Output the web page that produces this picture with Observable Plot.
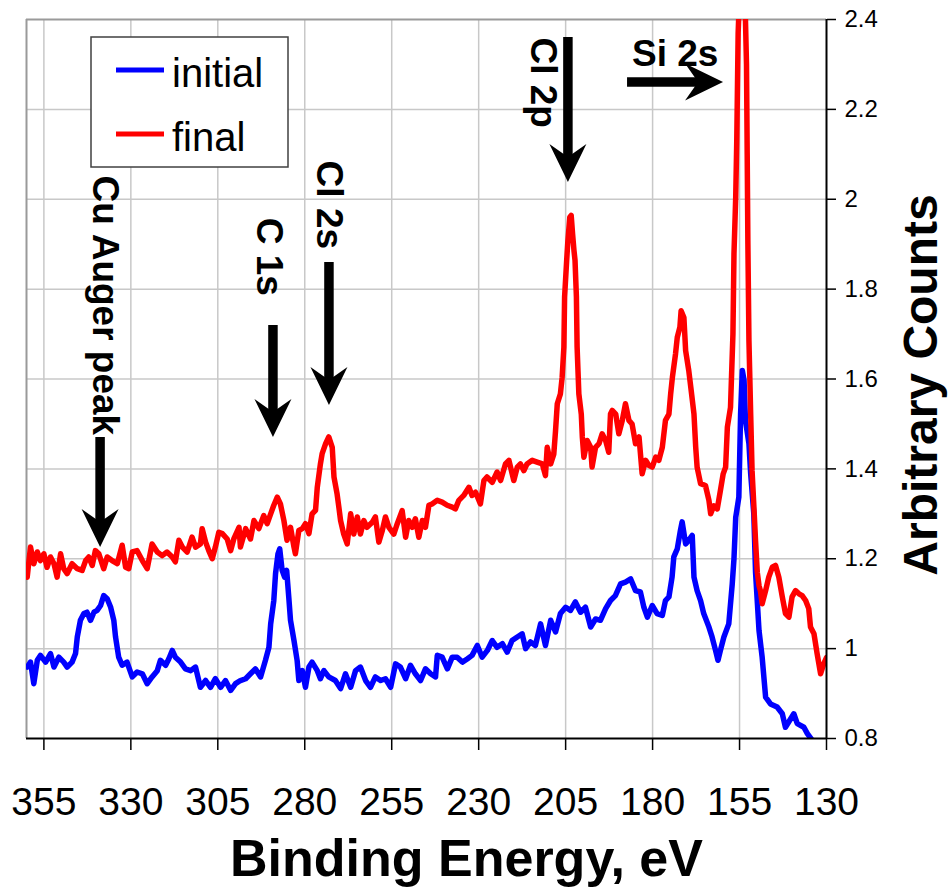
<!DOCTYPE html>
<html><head><meta charset="utf-8">
<script src="https://cdn.jsdelivr.net/npm/d3@7"></script>
<script src="https://cdn.jsdelivr.net/npm/@observablehq/plot@0.6"></script>
<style>
body{margin:0;background:#fff;}
#chart{width:949px;height:888px;}
</style></head><body><div id="chart"></div>
<script>
// ---- data: [binding energy (eV), arbitrary counts] ----
const initialSpectrum = [
[359.8,0.959],[358.85,0.970],[357.9,0.922],[356.9,0.974],[356.0,0.985],[354.5,0.970],[353.1,0.989],[352.1,0.959],[350.7,0.981],[349.3,0.970],[348.3,0.959],[346.9,0.970],[345.9,0.989],[345.4,1.026],[344.5,1.063],[343.5,1.078],[342.6,1.081],[341.6,1.063],[340.6,1.081],[339.7,1.085],[338.7,1.096],[337.8,1.118],[336.8,1.111],[335.8,1.092],[334.9,1.063],[334.4,1.026],[333.5,0.981],[332.5,0.963],[331.1,0.970],[329.6,0.937],[328.2,0.948],[326.7,0.944],[325.3,0.922],[323.9,0.937],[322.4,0.951],[321.5,0.974],[320.0,0.963],[319.1,0.977],[318.1,0.996],[317.2,0.981],[315.7,0.970],[314.3,0.955],[312.8,0.951],[311.4,0.959],[310.0,0.914],[308.5,0.929],[307.1,0.914],[305.7,0.933],[304.2,0.914],[302.8,0.929],[301.3,0.907],[299.9,0.922],[298.5,0.929],[297.0,0.933],[295.6,0.944],[294.2,0.955],[292.7,0.937],[291.3,0.974],[290.3,1.003],[289.8,1.055],[288.9,1.107],[288.4,1.167],[287.7,1.211],[287.2,1.222],[286.5,1.174],[285.8,1.159],[285.2,1.174],[284.6,1.115],[284.1,1.063],[283.1,1.018],[282.2,0.974],[281.7,0.929],[280.7,0.951],[279.8,0.914],[278.8,0.959],[277.9,0.970],[276.4,0.951],[275.5,0.933],[274.5,0.951],[273.1,0.937],
[271.2,0.929],[269.7,0.911],[268.3,0.944],[266.8,0.914],[265.4,0.951],[264.0,0.959],[262.5,0.929],[261.1,0.914],[259.7,0.937],[258.2,0.929],[256.8,0.933],[255.3,0.914],[253.9,0.966],[252.5,0.959],[251.0,0.933],[249.6,0.963],[248.2,0.944],[246.7,0.929],[245.3,0.955],[243.8,0.944],[242.4,0.937],[241.9,0.985],[240.5,0.981],[239.0,0.955],[237.6,0.981],[236.2,0.981],[234.7,0.970],[233.3,0.977],[231.9,0.985],[230.4,1.007],[229.0,0.981],[227.5,0.996],[226.1,1.018],[224.7,1.003],[223.2,1.011],[221.8,0.992],[220.4,1.018],[218.9,1.026],[217.5,1.033],[216.5,1.000],[215.1,1.015],[213.7,1.007],[212.2,1.055],[210.8,1.007],[209.3,1.063],[207.9,1.037],[206.5,1.078],[205.0,1.092],[203.6,1.085],[202.2,1.104],[200.7,1.081],[199.3,1.092],[197.8,1.048],[196.4,1.066],[195.0,1.063],[193.5,1.089],[192.1,1.107],[190.7,1.118],[189.2,1.144],[187.8,1.148],[186.3,1.155],
[184.9,1.129],[183.5,1.126],[182.5,1.092],[181.5,1.070],[180.1,1.096],[178.7,1.078],[177.2,1.074],[176.3,1.107],[175.3,1.115],[174.4,1.159],[173.9,1.204],[172.9,1.222],[172.0,1.263],[171.5,1.282],[170.5,1.233],[169.6,1.241],[168.6,1.252],[168.1,1.159],[167.2,1.129],[166.2,1.107],[165.3,1.078],[163.8,1.048],[162.9,1.026],[161.9,0.996],[161.2,0.974],[160.5,0.996],[159.5,1.026],[158.1,1.055],[157.1,1.144],[156.6,1.200],[156.1,1.292],[155.2,1.337],[154.7,1.522],[154.2,1.619],[153.7,1.597],[153.3,1.508],[152.3,1.456],[151.8,1.389],[150.9,1.300],[150.4,1.170],[149.4,1.040],[148.5,0.981],[147.5,0.892],[146.1,0.877],[144.2,0.870],[142.7,0.855],[141.8,0.825],[139.4,0.855],[138.4,0.833],[136.5,0.825],[135.5,0.811],[134.1,0.796],[133.5,0.785]
];
const finalSpectrum = [
[359.8,1.159],[358.85,1.226],[357.9,1.189],[356.9,1.215],[356.0,1.196],[355.0,1.211],[354.1,1.181],[353.1,1.204],[352.1,1.189],[351.2,1.159],[350.2,1.211],[349.3,1.178],[348.3,1.167],[346.9,1.189],[345.4,1.178],[344.0,1.174],[343.0,1.196],[342.1,1.204],[341.1,1.185],[340.2,1.218],[339.2,1.211],[337.8,1.178],[336.8,1.204],[335.4,1.196],[333.9,1.189],[332.5,1.230],[331.5,1.181],[330.6,1.178],[329.6,1.215],[328.2,1.218],[326.7,1.196],[325.3,1.178],[323.9,1.233],[322.4,1.215],[321.0,1.207],[319.6,1.215],[318.1,1.204],[317.2,1.193],[316.2,1.241],[315.2,1.226],[313.8,1.215],[312.4,1.248],[311.4,1.226],[310.0,1.233],[309.5,1.267],[308.5,1.237],[307.6,1.218],[306.6,1.200],[305.7,1.226],[304.7,1.259],[303.7,1.256],[302.3,1.244],[301.3,1.218],[300.4,1.244],[298.9,1.270],[298.5,1.226],[297.0,1.267],[295.6,1.244],[294.6,1.285],[293.2,1.267],[291.8,1.296],[290.8,1.278],[289.8,1.300],[288.9,1.319],[287.9,1.337],[287.0,1.322],[286.0,1.285],[285.1,1.241],[284.1,1.270],[283.1,1.226],[282.7,1.211],[281.7,1.263],[280.7,1.267],[279.8,1.278],[278.8,1.256],[277.9,1.300],[276.9,1.308],
[276.4,1.359],[275.5,1.411],[275.0,1.434],[274.0,1.456],[273.1,1.471],[272.1,1.448],[271.6,1.382],[270.7,1.344],[270.2,1.315],[269.7,1.285],[268.8,1.255],[267.8,1.233],[266.8,1.300],[265.9,1.255],[264.9,1.293],[264.0,1.255],[263.0,1.285],[262.1,1.270],[260.6,1.281],[259.7,1.293],[258.7,1.237],[257.7,1.263],[256.8,1.293],[255.8,1.270],[254.4,1.255],[253.4,1.278],[252.0,1.307],[251.0,1.248],[250.1,1.285],[249.1,1.270],[248.2,1.289],[247.2,1.248],[246.2,1.285],[245.3,1.270],[244.3,1.319],[243.4,1.322],[241.9,1.330],[240.5,1.326],[239.05,1.319],[237.6,1.315],[236.7,1.311],[235.7,1.330],[234.3,1.341],[232.8,1.359],[231.9,1.341],[230.9,1.348],[229.5,1.322],[228.5,1.374],[227.6,1.382],[226.1,1.370],[224.7,1.393],[223.7,1.374],[222.3,1.411],[221.3,1.419],[219.9,1.374],[218.9,1.404],[218.0,1.411],[217.0,1.396],[216.1,1.411],[214.6,1.419],[213.2,1.415],[211.7,1.411],[210.8,1.385],[210.3,1.448],[209.3,1.411],[208.4,1.433],[207.9,1.485],[207.4,1.545],[206.5,1.567],[206.0,1.604],[205.5,1.671],[205.3,1.782],[204.7,1.864],[204.35,1.908],[203.8,1.960],[203.4,1.964],[203.0,1.923],[202.6,1.886],[202.3,1.864],[201.9,1.782],[201.7,1.671],[201.2,1.567],[200.5,1.522],[200.2,1.471],[199.75,1.426],[198.8,1.463],[197.8,1.448],[197.4,1.404],[196.4,1.448],[195.4,1.456],[194.5,1.478],[193.5,1.463],[192.6,1.437],[192.1,1.522],[191.6,1.530],[190.6,1.522],[189.7,1.478],[188.7,1.508],[187.8,1.545],[186.8,1.508],[185.9,1.500],[184.9,1.456],[183.9,1.471],[183.0,1.389],[182.0,1.419],[181.1,1.408],[180.1,1.404],[179.1,1.426],[178.2,1.419],[177.2,1.448],[176.3,1.508],[175.3,1.522],[174.8,1.567],[174.3,1.604],[173.4,1.656],[172.9,1.693],[172.15,1.715],[171.8,1.752],[171.0,1.737],[170.5,1.663],[169.6,1.619],[168.9,1.574],[168.1,1.522],[167.6,1.448],[167.2,1.404],[166.2,1.367],[164.8,1.363],[163.8,1.330],[163.3,1.300],[162.4,1.318],[161.4,1.311],[160.5,1.352],[159.7,1.389],[159.0,1.404],[158.5,1.493],[157.6,1.537],[156.9,1.700],[156.6,1.878],[156.1,2.005],[155.8,2.13],[155.4,2.37],[154.8,2.50],[154.2,2.52],[153.6,2.50],[153.0,2.30],[152.8,2.10],[152.6,1.90],[152.3,1.686],[151.8,1.522],[151.4,1.396],[150.9,1.320],[150.4,1.240],[149.9,1.170],[149.4,1.140],[149.0,1.129],[148.5,1.100],[147.5,1.129],[146.6,1.159],[145.6,1.181],[144.65,1.185],[143.7,1.159],[142.7,1.115],[141.8,1.078],[140.8,1.070],[139.9,1.115],[138.9,1.129],[137.9,1.122],[137.0,1.118],[136.0,1.107],[135.1,1.089],[134.6,1.048],[133.6,1.033],[132.7,0.989],[131.7,0.944],[130.8,0.966],[130.0,0.980]
];
const seriesNames = ["initial", "final"];
const seriesColors = ["#0000ff", "#ff0000"];
const xTicks = [355, 330, 305, 280, 255, 230, 205, 180, 155, 130];
const yTicks = [0.8, 1.0, 1.2, 1.4, 1.6, 1.8, 2.0, 2.2, 2.4];
// peak labels (vertical text) : label, energy, counts at text start
const peakLabels = [
  {label: "Cu Auger peak", x: 337.6, y: 2.053},
  {label: "C 1s", x: 290.4, y: 1.959},
  {label: "Cl 2s", x: 273.2, y: 2.086},
  {label: "Cl 2p", x: 211.5, y: 2.360}
];
const sideLabels = [{label: "Si 2s", x: 173.5, y: 2.322}];
// arrows: start -> tip, in data coordinates
const arrows = [
  {x1: 338.7, y1: 1.470, x2: 338.7, y2: 1.225},
  {x1: 289.0, y1: 1.719, x2: 289.0, y2: 1.470},
  {x1: 272.9, y1: 1.859, x2: 272.9, y2: 1.541},
  {x1: 204.2, y1: 2.360, x2: 204.2, y2: 2.037},
  {x1: 187.2, y1: 2.260, x2: 159.6, y2: 2.260}
];

const FONT = "'Liberation Sans', Arial, Helvetica, sans-serif";
const toRows = (arr) => arr.map(([e, c]) => ({e, c}));
const initialRows = toRows(initialSpectrum);
const finalRows = toRows(finalSpectrum);

function arrowMark(index, scales) {
  const sx = scales.x, sy = scales.y;
  const g = d3.create("svg:g");
  for (const a of arrows) {
    const x1 = sx(a.x1), y1 = sy(a.y1), x2 = sx(a.x2), y2 = sy(a.y2);
    const dx = x2 - x1, dy = y2 - y1, L = Math.hypot(dx, dy);
    const ux = dx / L, uy = dy / L, nx = -uy, ny = ux;
    const headL = 38, headW = 18.5, notch = 25;
    g.append("line")
      .attr("x1", x1).attr("y1", y1)
      .attr("x2", x2 - ux * 22).attr("y2", y2 - uy * 22)
      .attr("stroke", "#000").attr("stroke-width", 9.5);
    const pts = [
      [x2, y2],
      [x2 - ux * headL + nx * headW, y2 - uy * headL + ny * headW],
      [x2 - ux * notch, y2 - uy * notch],
      [x2 - ux * headL - nx * headW, y2 - uy * headL - ny * headW]
    ];
    g.append("path").attr("d", "M" + pts.map(p => p.join(",")).join("L") + "Z").attr("fill", "#000");
  }
  return g.node();
}

function legendMark(index, scales, values, dimensions) {
  const ml = dimensions.marginLeft, mt = dimensions.marginTop;
  const g = d3.create("svg:g");
  g.append("rect").attr("x", ml + 65).attr("y", mt + 18).attr("width", 197).attr("height", 130)
    .attr("fill", "#fff").attr("stroke", "#404040").attr("stroke-width", 1.5);
  seriesNames.forEach((name, i) => {
    const yy = mt + 51 + 64 * i;
    g.append("line").attr("x1", ml + 90).attr("x2", ml + 138).attr("y1", yy).attr("y2", yy)
      .attr("stroke", seriesColors[i]).attr("stroke-width", 5);
    g.append("text").attr("x", ml + 146).attr("y", yy + 17).attr("font-size", 40)
      .attr("text-anchor", "start")
      .attr("font-family", FONT).attr("fill", "#000").text(name);
  });
  return g.node();
}

const plot = Plot.plot({
  width: 949, height: 888,
  marginLeft: 26, marginRight: 123, marginTop: 19, marginBottom: 150,
  style: {fontFamily: FONT, background: "#fff", color: "#000", overflow: "visible"},
  x: {domain: [360, 130]},
  y: {domain: [0.8, 2.4]},
  marks: [
    Plot.gridX(xTicks.filter(d => d !== 130), {stroke: "#c8c8c8", strokeOpacity: 1, strokeWidth: 1.5}),
    Plot.gridY(yTicks.filter(d => d > 0.8 && d < 2.4), {stroke: "#c8c8c8", strokeOpacity: 1, strokeWidth: 1.5}),
    Plot.ruleY([2.4], {stroke: "#9a9a9a", strokeWidth: 2}),
    Plot.ruleX([360], {stroke: "#9a9a9a", strokeWidth: 2}),
    Plot.line(initialRows, {x: "e", y: "c", stroke: seriesColors[0], strokeWidth: 5.5, clip: true}),
    Plot.line(finalRows, {x: "e", y: "c", stroke: seriesColors[1], strokeWidth: 5.5, clip: true}),
    Plot.ruleY([0.8], {stroke: "#000", strokeWidth: 2}),
    Plot.ruleX([130], {stroke: "#000", strokeWidth: 2}),
    Plot.axisX({ticks: xTicks, tickSize: 12, tickPadding: 37, fontSize: 39, strokeWidth: 1.5,
      tickFormat: d => String(d), label: null}),
    Plot.axisY({anchor: "right", ticks: yTicks, tickSize: 9, tickPadding: 9, fontSize: 24, strokeWidth: 1.5,
      tickFormat: d => String(+d.toFixed(1)), label: null}),
    Plot.text(peakLabels, {x: "x", y: "y", text: "label", rotate: 90, textAnchor: "start",
      fontSize: 37, fontWeight: "bold", fill: "#000"}),
    Plot.text(sideLabels, {x: "x", y: "y", text: "label", textAnchor: "middle",
      fontSize: 37, fontWeight: "bold", fill: "#000"}),
    arrowMark,
    legendMark,
    Plot.text(["Arbitrary Counts"], {text: d => d, frameAnchor: "right", textAnchor: "middle", rotate: -90, dx: 95, dy: 6,
      fontSize: 48, fontWeight: "bold", fill: "#000"}),
    Plot.text(["Binding Energy, eV"], {text: d => d, frameAnchor: "bottom", textAnchor: "middle", lineAnchor: "bottom", dx: 40, dy: 137,
      fontSize: 52, fontWeight: "bold", fill: "#000"})
  ]
});
document.getElementById("chart").appendChild(plot);
</script>
</body></html>
